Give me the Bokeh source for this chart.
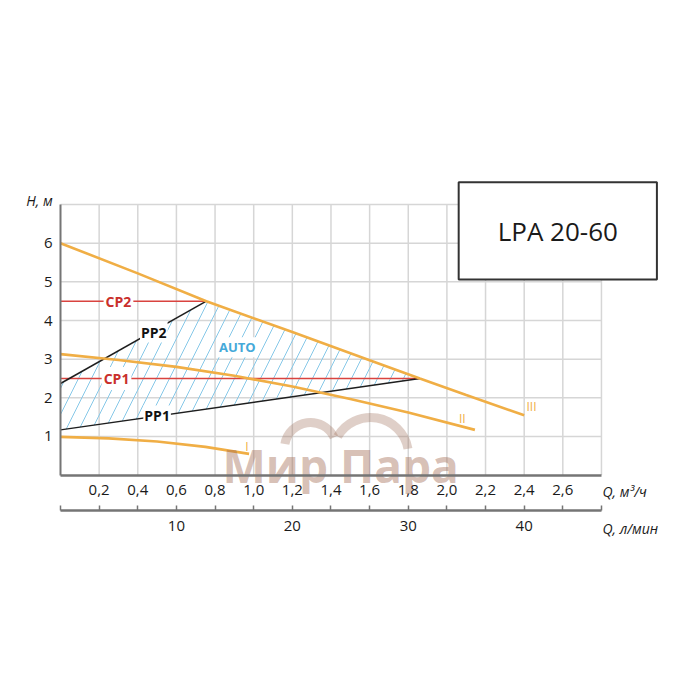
from bokeh.plotting import figure
from bokeh.models import Range1d, LinearAxis, FixedTicker, CustomJSTickFormatter
from bokeh.core.properties import value
from bokeh.embed import file_html
from bokeh.resources import INLINE

# ---------------- data ----------------
q_labels_ticks = [0.2, 0.4, 0.6, 0.8, 1.0, 1.2, 1.4, 1.6, 1.8, 2.0, 2.2, 2.4, 2.6]
q_grid = [0.2, 0.4, 0.6, 0.8, 1.0, 1.2, 1.4, 1.6, 1.8, 2.0, 2.2, 2.4, 2.6, 2.8]
q_max = 2.8
h_ticks = [1, 2, 3, 4, 5, 6]
h_grid = [1, 2, 3, 4, 5, 6, 7]
h_max = 7
lmin_per_m3h = 1000 / 60
lmin_label_ticks = [10, 20, 30, 40]

curve_I_q = [0.0, 0.25, 0.5, 0.75, 0.976]
curve_I_h = [0.99, 0.95, 0.87, 0.73, 0.55]
curve_II_q = [0.0, 0.3, 0.6, 0.9, 1.2, 1.5, 1.8, 2.145]
curve_II_h = [3.13, 2.98, 2.80, 2.57, 2.29, 1.97, 1.62, 1.17]
curve_III_q = [0.0, 0.4, 0.755, 1.2, 1.6, 1.86, 2.1, 2.4]
curve_III_h = [6.0, 5.22, 4.5, 3.70, 2.97, 2.5, 2.07, 1.55]
curve_names = ["I", "II", "III"]
curve_label_q = [0.965, 2.08, 2.438]
curve_label_h = [0.74, 1.47, 1.77]

cp_names = ["CP2", "CP1"]
cp_h = [4.5, 2.5]
cp_end_q = [0.755, 1.86]
cp_label_q = [0.30, 0.29]

pp_names = ["PP2", "PP1"]
pp_q0 = [0.0, 0.0]
pp_h0 = [2.37, 1.17]
pp_q1 = [0.755, 1.86]
pp_h1 = [4.5, 2.5]
pp_label_q = [0.483, 0.50]
pp_label_h = [3.70, 1.53]

auto_label = ["AUTO"]
auto_q = [0.915]
auto_h = [3.31]

title_text = ["LPA 20-60"]
box_left, box_right, box_bottom, box_top = [2.061], [3.087], [5.06], [7.577]

watermark_text = ["Мир Пара"]
watermark_q = [1.45]
watermark_h = [0.26]
watermark_arc_q = [1.294, 1.605]
watermark_arc_h = [0.688, 0.507]
watermark_arc_r = [26, 38]
watermark_arc_start = [0.44, 0.18]
watermark_arc_end = [2.97, 2.62]

# ---------------- geometry of the page ----------------
W = H = 684
px_per_q = 193.2
px_per_h = 38.65
x0_px = 60      # position of Q=0 in the figure
y0_px = 474.6   # position of H=0 from the top of the figure

p = figure(width=W, height=H, output_backend="svg", toolbar_location=None,
           x_range=Range1d(-x0_px / px_per_q, (W - x0_px) / px_per_q),
           y_range=Range1d(-(H - y0_px) / px_per_h, y0_px / px_per_h),
           x_axis_location=None, y_axis_location=None,
           min_border=0, min_border_left=0, min_border_right=0,
           min_border_top=0, min_border_bottom=0)
p.outline_line_color = None
p.background_fill_color = "white"
p.border_fill_color = "white"
p.xgrid.visible = False
p.ygrid.visible = False

FONT = value("Open Sans")
GRID = "#d6d6d6"
ORANGE = "#f0ae45"
RED = "#d9433f"
AXIS = "#757575"

# grid
p.segment(x0=q_grid, x1=q_grid, y0=[0] * len(q_grid), y1=[h_max] * len(q_grid),
          line_color=GRID, line_width=1.5)
p.segment(x0=[0] * len(h_grid), x1=[q_max] * len(h_grid), y0=h_grid, y1=h_grid,
          line_color=GRID, line_width=1.5)

# title box
p.quad(left=box_left, right=box_right, bottom=box_bottom, top=box_top,
       fill_color="white", line_color="#333333", line_width=2)
p.text(x=[(box_left[0] + box_right[0]) / 2], y=[(box_bottom[0] + box_top[0]) / 2],
       text=title_text, text_font=FONT, text_font_size="26px",
       text_align="center", text_baseline="middle", text_color="#1a1a1a")

# AUTO hatched region
iii_part = [(q, h) for q, h in zip(curve_III_q, curve_III_h) if pp_q1[0] < q <= pp_q1[1]]
hx = [pp_q0[1], pp_q0[0], pp_q1[0]] + [q for q, _ in iii_part]
hy = [pp_h0[1], pp_h0[0], pp_h1[0]] + [h for _, h in iii_part]
p.patch(hx, hy, fill_alpha=0, line_alpha=0, hatch_pattern="/",
        hatch_color="#86c8e8", hatch_scale=26, hatch_weight=1)

# CP lines
for h, qe in zip(cp_h, cp_end_q):
    p.line([0, qe], [h, h], line_color=RED, line_width=1.5)
# PP lines
for a, b, c, d in zip(pp_q0, pp_q1, pp_h0, pp_h1):
    p.line([a, b], [c, d], line_color="#1e1e1e", line_width=1.5)

# pump curves
for qs, hs in [(curve_I_q, curve_I_h), (curve_II_q, curve_II_h), (curve_III_q, curve_III_h)]:
    p.line(qs, hs, line_color=ORANGE, line_width=2.6)

p.text(x=curve_label_q, y=curve_label_h, text=curve_names, text_font=FONT,
       text_font_size="12px", text_color=ORANGE, text_align="center",
       text_baseline="middle")

p.text(x=cp_label_q, y=cp_h, text=cp_names, text_font=FONT, text_font_size="14px",
       text_font_style="bold", text_color="#c9302c", text_align="center",
       text_baseline="middle", background_fill_color="white", padding=2)
p.text(x=pp_label_q, y=pp_label_h, text=pp_names, text_font=FONT, text_font_size="14px",
       text_font_style="bold", text_color="#111111", text_align="center",
       text_baseline="middle", background_fill_color="white", padding=1)
p.text(x=auto_q, y=auto_h, text=auto_label, text_font=FONT, text_font_size="13px",
       text_font_style="bold", text_color="#45a9d9", text_align="center",
       text_baseline="middle", background_fill_color="white", padding=1)

# axes
yax = LinearAxis(fixed_location=0, bounds=(0, h_max),
                 ticker=FixedTicker(ticks=h_ticks))
yax.axis_line_color = AXIS
yax.axis_line_width = 2
yax.major_tick_in = 0
yax.major_tick_out = 0
yax.minor_tick_line_color = None
yax.major_label_standoff = 8
yax.major_label_text_font = "Open Sans"
yax.major_label_text_font_size = "15px"
yax.major_label_text_color = "#1a1a1a"
p.add_layout(yax, "left")

xax = LinearAxis(fixed_location=0, bounds=(0, q_max),
                 ticker=FixedTicker(ticks=q_labels_ticks),
                 formatter=CustomJSTickFormatter(code="return tick.toFixed(1).replace('.', ',');"))
xax.axis_line_color = AXIS
xax.axis_line_width = 2.5
xax.major_tick_in = 0
xax.major_tick_out = 0
xax.minor_tick_line_color = None
xax.major_label_standoff = 10
xax.major_label_text_font = "Open Sans"
xax.major_label_text_font_size = "15px"
xax.major_label_text_color = "#1a1a1a"
p.add_layout(xax, "below")

p.extra_x_ranges = {"lmin": Range1d(p.x_range.start * lmin_per_m3h, p.x_range.end * lmin_per_m3h)}
lmin_ticks = [0.0] + [q * lmin_per_m3h for q in q_grid]
lax = LinearAxis(x_range_name="lmin", fixed_location=-0.905,
                 bounds=(0, q_max * lmin_per_m3h),
                 ticker=FixedTicker(ticks=lmin_ticks),
                 formatter=CustomJSTickFormatter(
                     args=dict(show=lmin_label_ticks),
                     code="for (const s of show) { if (Math.abs(tick - s) < 0.01) return String(s); } return '';"))
lax.axis_line_color = AXIS
lax.axis_line_width = 2.5
lax.major_tick_in = 5
lax.major_tick_out = 0
lax.major_tick_line_color = AXIS
lax.major_tick_line_width = 1.5
lax.minor_tick_line_color = None
lax.major_label_standoff = 11
lax.major_label_text_font = "Open Sans"
lax.major_label_text_font_size = "15px"
lax.major_label_text_color = "#1a1a1a"
p.add_layout(lax, "below")

# axis titles
p.text(x=[-0.109], y=[7.11], text=["H, м"], text_font=FONT, text_font_size="14px",
       text_font_style="italic", text_align="center", text_baseline="middle",
       text_color="#1a1a1a")
p.text(x=[2.805, 2.805], y=[-0.43, -1.38], text=["Q, м³/ч", "Q, л/мин"], text_font=FONT,
       text_font_size="14px", text_font_style="italic", text_align="left",
       text_baseline="middle", text_color="#1a1a1a")

# watermark
p.arc(x=watermark_arc_q, y=watermark_arc_h, radius=watermark_arc_r, radius_units="screen",
      start_angle=watermark_arc_start, end_angle=watermark_arc_end,
      line_color="#9c6a55", line_alpha=0.32, line_width=9)
p.text(x=watermark_q, y=watermark_h, text=watermark_text, text_font=FONT,
       text_font_size="46px", text_font_style="bold", text_color="#a0684f",
       text_alpha=0.42, text_align="center", text_baseline="middle")

open("out.html", "w").write(file_html(p, INLINE))
